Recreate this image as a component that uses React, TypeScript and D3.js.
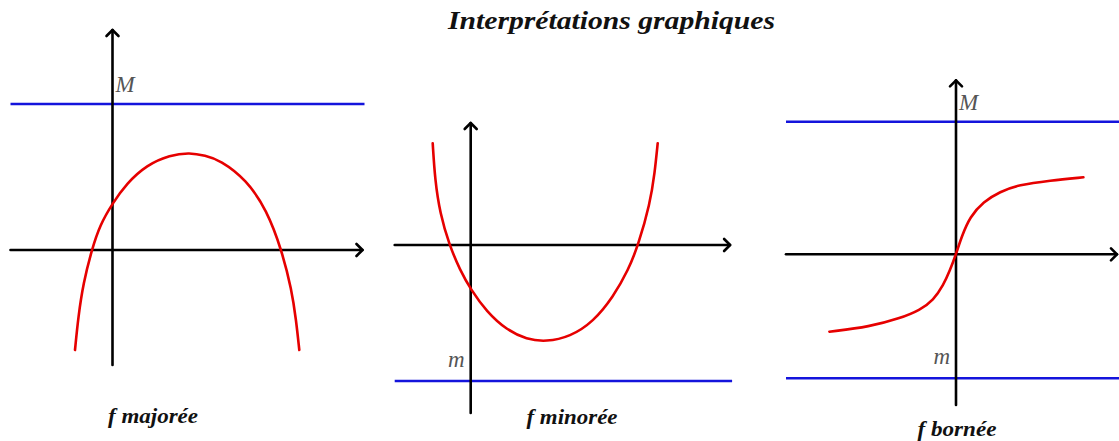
import React from 'react'
import * as d3 from 'd3'

// valeurs (unités du repère, 1 unité = 20 px)
const majoreeX = [-1.875, -1.71, -1.46, -1.04, -0.625, 0, 0.71, 1.71, 2.875, 3.875, 4.625, 5.375, 6.71, 7.71, 8.46, 8.96, 9.18, 9.34]
const majoreeY = [-5.0, -3.33, -1.67, 0, 1.25, 2.33, 3.33, 4.25, 4.75, 4.87, 4.72, 4.5, 3.5, 2.0, 0, -2.0, -3.5, -5.0]

const minoreeX = [-1.9, -1.785, -1.535, -1.07, -0.535, 0, 0.8, 1.8, 2.8, 3.77, 4.97, 6.13, 7.13, 7.88, 8.38, 8.97, 9.2, 9.35]
const minoreeY = [5.09, 3.25, 1.59, 0, -1.25, -2.22, -3.34, -4.25, -4.72, -4.84, -4.59, -3.84, -2.59, -1.25, 0, 2.09, 3.59, 5.09]

const borneeX = [-6.33, -4.3, -2.8, -1.8, -1.13, -0.63, -0.3, 0, 0.28, 0.7, 1.37, 2.2, 3.12, 4.7, 6.37]
const borneeY = [-3.87, -3.62, -3.2, -2.79, -2.29, -1.54, -0.79, 0, 0.88, 1.88, 2.63, 3.13, 3.47, 3.69, 3.85]

const majorants = [7.3, null, 6.63]
const minorants = [null, -6.8, -6.2]
const captions = ['f majorée', 'f minorée', 'f bornée']
const title = 'Interprétations graphiques'

const UNIT = 20
const RED = '#e60000'
const BLUE = '#1414dc'

type Panel = {
  ox: number; oy: number
  x0: number; x1: number; y0: number; y1: number
  xs: number[]; ys: number[]
  M: number | null; m: number | null
  caption: string; capX: number; capY: number; capW: number
}

const panels: Panel[] = [
  { ox: 112.5, oy: 250, x0: -5.1, x1: 12.5, y0: -5.75, y1: 11, xs: majoreeX, ys: majoreeY,
    M: majorants[0], m: minorants[0], caption: captions[0], capX: 153, capY: 423, capW: 90 },
  { ox: 470.7, oy: 245, x0: -3.8, x1: 12.97, y0: -8.4, y1: 6.1, xs: minoreeX, ys: minoreeY,
    M: majorants[1], m: minorants[1], caption: captions[1], capX: 572, capY: 424, capW: 91 },
  { ox: 956, oy: 254.3, x0: -8.5, x1: 8.05, y0: -7.53, y1: 8.7, xs: borneeX, ys: borneeY,
    M: majorants[2], m: minorants[2], caption: captions[2], capX: 957, capY: 436, capW: 79 },
]

function Graph({ p }: { p: Panel }) {
  const x = d3.scaleLinear().domain([0, 1]).range([p.ox, p.ox + UNIT])
  const y = d3.scaleLinear().domain([0, 1]).range([p.oy, p.oy - UNIT])
  const pts = p.xs.map((v, i) => [v, p.ys[i]] as [number, number])
  const line = d3.line<[number, number]>()
    .x(d => x(d[0]))
    .y(d => y(d[1]))
    .curve(d3.curveBasis)

  const ax = { stroke: '#000', strokeWidth: 2.6, fill: 'none', strokeLinecap: 'round' as const, strokeLinejoin: 'round' as const }
  const xEnd = x(p.x1)
  const yTop = y(p.y1)
  return (
    <g>
      {/* droites y = M et y = m */}
      {p.M !== null && (
        <line x1={x(p.x0)} x2={x(p.x1) + 2} y1={y(p.M)} y2={y(p.M)} stroke={BLUE} strokeWidth={2.6} />
      )}
      {p.m !== null && (
        <line x1={x(p.x0)} x2={x(p.x1) + 2} y1={y(p.m)} y2={y(p.m)} stroke={BLUE} strokeWidth={2.6} />
      )}
      {/* axes */}
      <line x1={x(p.x0)} x2={xEnd} y1={y(0)} y2={y(0)} {...ax} />
      <path d={`M${xEnd - 6},${y(0) - 6}L${xEnd},${y(0)}L${xEnd - 6},${y(0) + 6}`} {...ax} />
      <line x1={x(0)} x2={x(0)} y1={y(p.y0)} y2={yTop} {...ax} />
      <path d={`M${x(0) - 6},${yTop + 6}L${x(0)},${yTop}L${x(0) + 6},${yTop + 6}`} {...ax} />
      {/* courbe */}
      <path d={line(pts) ?? ''} fill="none" stroke={RED} strokeWidth={2.6} strokeLinecap="round" />
      {p.M !== null && (
        <text x={x(0) + 3} y={y(p.M) - 12} fontFamily="Liberation Serif" fontStyle="italic"
          fontSize={23} fill="#555">M</text>
      )}
      {p.m !== null && (
        <text x={x(0) - 6} y={y(p.m) - 14} textAnchor="end" fontFamily="Liberation Serif" fontStyle="italic"
          fontSize={23} fill="#555">m</text>
      )}
      <text x={p.capX} y={p.capY} textAnchor="middle" fontFamily="Liberation Serif" fontStyle="italic"
        fontWeight="bold" fontSize={21} fill="#111" textLength={p.capW} lengthAdjust="spacingAndGlyphs">{p.caption}</text>
    </g>
  )
}

export default function App() {
  return (
    <svg width={1119} height={441} style={{ position: 'absolute', left: 0, top: 0, background: '#fff' }}>
      <rect width={1119} height={441} fill="#fff" />
      <text x={611.5} y={29} textAnchor="middle" fontFamily="Liberation Serif" fontStyle="italic"
        fontWeight="bold" fontSize={25} fill="#111" textLength={327} lengthAdjust="spacingAndGlyphs">{title}</text>
      {panels.map((p, i) => <Graph key={i} p={p} />)}
    </svg>
  )
}
